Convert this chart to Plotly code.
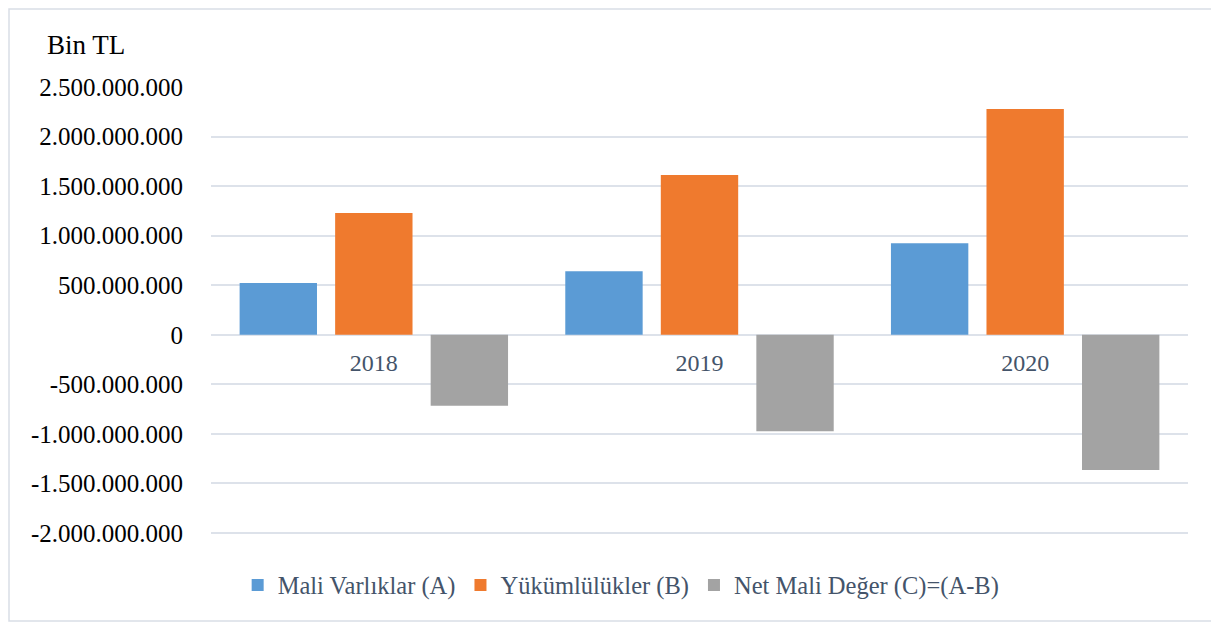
import plotly.graph_objects as go

years = ["2018", "2019", "2020"]
mali_varliklar = [522_000_000, 641_000_000, 924_000_000]
yukumlulukler = [1_228_000_000, 1_611_000_000, 2_278_000_000]
net_mali_deger = [-715_000_000, -973_000_000, -1_365_000_000]

series_names = ["Mali Varlıklar (A)", "Yükümlülükler (B)", "Net Mali Değer (C)=(A-B)"]
series_colors = ["#5B9BD5", "#EF7A2E", "#A3A3A3"]

tick_vals = [-2_000_000_000, -1_500_000_000, -1_000_000_000, -500_000_000, 0,
             500_000_000, 1_000_000_000, 1_500_000_000, 2_000_000_000, 2_500_000_000]
tick_text = ["-2.000.000.000", "-1.500.000.000", "-1.000.000.000", "-500.000.000", "0",
             "500.000.000", "1.000.000.000", "1.500.000.000", "2.000.000.000", "2.500.000.000"]

FONT = "Liberation Serif, Times New Roman, serif"
GRID = "#DDE2EA"

# page body has an 8px default margin: positions below are compensated for it
W, H = 1219, 624
ML, MR, MT, MB = 203, 39, 79, 96
PW, PH = W - ML - MR, H - MT - MB

fig = go.Figure()
for name, vals, col in zip(series_names, [mali_varliklar, yukumlulukler, net_mali_deger], series_colors):
    fig.add_trace(go.Bar(x=years, y=vals, name=name, marker=dict(color=col, line=dict(width=0))))

y_min, y_max = -2_030_000_000, 2_500_000_000

fig.update_layout(
    width=W, height=H,
    margin=dict(l=ML, r=MR, t=MT, b=MB, autoexpand=False),
    paper_bgcolor="white", plot_bgcolor="white",
    barmode="group", bargap=0.12, bargroupgap=0.19,
    font=dict(family=FONT, color="#000000"),
    title=dict(text="Bin TL", x=39/W, xanchor="left", xref="container",
               y=1-37/H, yanchor="middle", yref="container",
               font=dict(family=FONT, size=27, color="#000000")),
    legend=dict(orientation="h", x=0.503, xanchor="center", xref="container",
                y=1-577/H, yanchor="middle", yref="container",
                font=dict(family=FONT, size=24.5, color="#44546A"),
                itemwidth=30, tracegroupgap=0, traceorder="normal"),
    showlegend=True,
)

fig.update_yaxes(range=[y_min, y_max], tickvals=tick_vals, ticktext=tick_text,
                 showgrid=True, gridcolor=GRID, gridwidth=2,
                 zeroline=False, showline=False,
                 ticks="outside", ticklen=22, tickcolor="rgba(0,0,0,0)",
                 tickfont=dict(family=FONT, size=25, color="#000000"))

fig.update_xaxes(type="category", anchor="free", position=(0 - y_min) / (y_max - y_min),
                 showgrid=False, zeroline=False, showline=False,
                 ticks="outside", ticklen=6, tickcolor="rgba(0,0,0,0)",
                 tickfont=dict(family=FONT, size=24, color="#44546A"))

# outer chart frame
fig.add_shape(type="rect", xref="paper", yref="paper",
              x0=(1-ML)/PW, x1=(1209-ML)/PW,
              y0=(H-MB-613)/PH, y1=(H-MB-1)/PH,
              line=dict(color="#D9DEE6", width=1.5), fillcolor="rgba(0,0,0,0)", layer="below")

fig.write_html("out.html")
